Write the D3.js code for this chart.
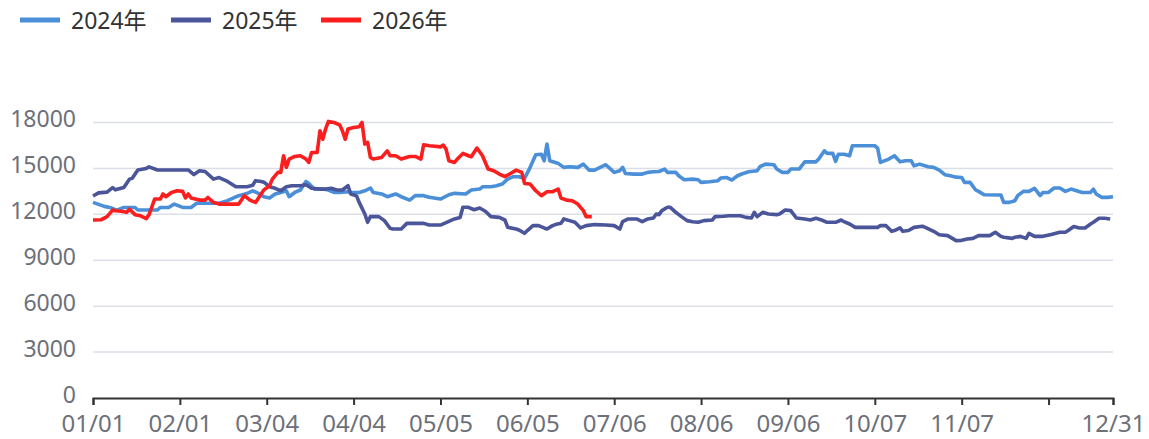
<!DOCTYPE html>
<html><head><meta charset="utf-8">
<script src="https://cdn.jsdelivr.net/npm/d3@7"></script>
<style>body{margin:0;background:#fff}svg{display:block}text{font-family:"Noto Sans","Noto Sans CJK SC",sans-serif}</style>
</head><body><svg id="c" width="1149" height="439"></svg>
<script>
const seriesNames = ["2024年", "2025年", "2026年"];
const seriesColors = ["#4a8fd8", "#4b5599", "#fa1e1e"];
const tickDays = [0, 31, 62, 93, 124, 155, 186, 217, 248, 279, 310, 341, 364];
const tickLabels = ["01/01", "02/01", "03/04", "04/04", "05/05", "06/05", "07/06", "08/06", "09/06", "10/07", "11/07", "", "12/31"];
const yTicks = [0, 3000, 6000, 9000, 12000, 15000, 18000];

// [day index from 01/01, value]
const data2024 = [[0,12780],[4,12520],[6,12450],[8,12300],[9,12300],[11,12450],[13,12450],[15,12450],[16,12280],[21,12280],[23,12280],[24,12450],[27,12450],[29,12670],[32,12450],[35,12450],[37,12720],[45,12720],[48,12890],[52,13220],[55,13370],[57,13540],[59,13370],[61,13150],[63,13070],[65,13330],[67,13430],[69,13540],[70,13150],[72,13430],[74,13590],[76,14150],[77,14020],[79,13650],[82,13650],[84,13590],[86,13430],[88,13430],[91,13480],[92,13430],[95,13430],[97,13540],[99,13720],[100,13430],[103,13330],[105,13150],[108,13330],[110,13150],[113,12930],[115,13220],[118,13220],[120,13110],[124,13000],[127,13280],[129,13370],[133,13330],[135,13590],[138,13650],[139,13800],[142,13800],[144,13870],[146,13980],[148,14300],[150,14460],[152,14460],[154,14350],[156,15070],[158,15890],[160,15930],[161,15500],[162,16590],[163,15500],[165,15390],[166,15330],[168,15070],[170,15110],[173,15070],[175,15280],[177,14890],[179,14890],[183,15240],[186,14740],[188,14850],[189,15070],[190,14670],[193,14630],[196,14630],[198,14740],[200,14780],[202,14800],[204,14960],[205,14740],[208,14740],[209,14520],[211,14260],[214,14300],[216,14260],[217,14090],[220,14130],[223,14200],[224,14370],[226,14410],[228,14240],[230,14520],[232,14670],[234,14780],[237,14850],[238,15110],[240,15280],[243,15240],[244,14960],[246,14740],[248,14740],[249,14960],[252,14960],[254,15430],[258,15430],[259,15610],[261,16150],[262,15980],[264,15980],[265,15460],[266,15930],[268,15930],[270,15830],[271,16480],[279,16480],[280,16330],[281,15390],[284,15610],[286,15830],[288,15430],[290,15500],[292,15500],[293,15170],[295,15280],[298,15110],[300,15070],[302,14890],[304,14590],[306,14520],[308,14430],[310,14410],[311,14090],[313,14090],[315,13590],[316,13500],[318,13280],[324,13260],[325,12780],[327,12780],[329,12890],[330,13220],[332,13500],[334,13500],[336,13700],[338,13220],[339,13430],[341,13430],[343,13720],[345,13720],[347,13500],[349,13650],[351,13540],[353,13430],[356,13430],[357,13650],[358,13330],[360,13110],[362,13110],[364,13150]];
const data2025 = [[0,13200],[2,13400],[5,13450],[7,13750],[8,13600],[10,13700],[11,13750],[13,14300],[14,14350],[16,14900],[19,15000],[20,15100],[23,14900],[34,14900],[36,14600],[38,14850],[40,14800],[43,14300],[45,14400],[48,14150],[51,13800],[55,13800],[57,13900],[58,14200],[60,14150],[61,14100],[63,13800],[65,13700],[67,13540],[69,13800],[71,13870],[74,13870],[76,13930],[78,13700],[81,13650],[83,13650],[85,13700],[87,13590],[89,13590],[91,13870],[92,13330],[94,13220],[95,12780],[97,12020],[98,11480],[99,11850],[102,11850],[104,11590],[106,11090],[107,11040],[110,11040],[112,11410],[115,11410],[118,11410],[120,11300],[124,11300],[127,11540],[129,11700],[131,11800],[132,12460],[134,12460],[136,12300],[138,12410],[140,12200],[142,11850],[145,11800],[147,11630],[148,11150],[151,11040],[152,10980],[154,10760],[155,10940],[157,11260],[159,11260],[161,11110],[162,11040],[164,11260],[165,11330],[167,11410],[168,11700],[170,11590],[172,11480],[174,11110],[176,11260],[179,11330],[183,11300],[186,11260],[188,11040],[189,11520],[191,11700],[194,11700],[196,11520],[198,11700],[200,11760],[201,12020],[202,11980],[203,12240],[205,12460],[206,12460],[208,12130],[210,11850],[212,11590],[214,11520],[216,11480],[218,11590],[221,11630],[222,11850],[225,11870],[227,11910],[231,11910],[233,11800],[235,11760],[236,12130],[237,11850],[239,12130],[241,12020],[244,11980],[245,12020],[247,12280],[249,12240],[251,11760],[254,11700],[256,11630],[258,11740],[260,11630],[262,11480],[265,11480],[267,11630],[268,11520],[270,11370],[272,11150],[280,11150],[281,11260],[283,11260],[285,10890],[286,10940],[288,11110],[289,10890],[291,10940],[293,11150],[296,11220],[297,11150],[300,10890],[302,10670],[305,10610],[308,10280],[310,10300],[312,10390],[314,10430],[316,10610],[318,10610],[320,10610],[322,10830],[324,10560],[325,10500],[328,10430],[329,10500],[331,10560],[333,10430],[334,10760],[336,10560],[339,10560],[342,10690],[345,10830],[347,10830],[348,10940],[350,11200],[352,11110],[354,11110],[356,11370],[357,11480],[359,11740],[361,11740],[363,11700]];
const data2026 = [[0,11630],[3,11650],[5,11850],[7,12280],[8,12230],[10,12200],[12,12130],[13,12330],[15,11980],[17,11900],[19,11720],[20,11980],[22,13000],[24,13000],[25,13330],[26,13150],[28,13430],[30,13540],[32,13500],[33,13070],[34,13330],[35,13070],[38,12930],[40,12930],[41,13100],[43,12780],[45,12670],[52,12670],[54,13220],[56,12930],[58,12780],[60,13330],[61,13600],[63,13870],[64,14300],[66,14740],[67,14740],[68,15830],[69,15070],[70,15610],[72,15780],[74,15830],[76,15610],[77,15390],[78,16040],[80,16040],[81,17460],[82,16910],[83,17570],[84,18070],[86,18000],[88,17850],[89,17460],[90,16910],[91,17570],[93,17670],[95,17720],[96,18000],[97,16590],[98,16700],[99,15720],[100,15610],[103,15720],[105,16150],[106,15830],[108,15830],[110,15610],[113,15780],[115,15780],[117,15610],[118,16540],[120,16480],[122,16450],[124,16410],[125,16520],[126,16260],[127,15500],[129,15390],[130,15610],[132,15980],[134,15830],[135,15760],[137,16330],[139,15830],[141,14960],[143,14850],[145,14630],[147,14460],[149,14670],[151,14890],[153,14740],[154,14020],[156,13980],[158,13540],[160,13220],[162,13480],[164,13480],[166,13650],[167,13070],[169,12930],[171,12890],[173,12670],[175,12240],[176,11850],[178,11850]];

const allSeries = [data2024, data2025, data2026];

const svg = d3.select("#c");
const x = d3.scaleLinear().domain([0, 364]).range([93, 1113]);
const y = d3.scaleLinear().domain([0, 18000]).range([398, 122.5]);

// grid
svg.append("g").selectAll("line").data(yTicks.filter(d => d > 0)).join("line")
  .attr("x1", x(0)).attr("x2", x(364)).attr("y1", d => y(d)).attr("y2", d => y(d))
  .attr("stroke", "#dcdfe8").attr("stroke-width", 1.5);

// y labels
svg.append("g").selectAll("text").data(yTicks).join("text")
  .attr("x", 76).attr("y", d => y(d) + 4.5).attr("text-anchor", "end")
  .attr("fill", "#6e7079").attr("font-size", 23).text(d => d);

// x axis
const xAxis = d3.axisBottom(x).tickValues(tickDays).tickSize(7).tickFormat((d, i) => tickLabels[i]);
const gx = svg.append("g").attr("transform", `translate(0,${y(0)})`).call(xAxis);
gx.select(".domain").attr("stroke", "#333").attr("stroke-width", 2);
gx.selectAll(".tick line").attr("stroke", "#333").attr("stroke-width", 2);
gx.selectAll(".tick text").attr("fill", "#6e7079").attr("font-size", 24).attr("y", 34).attr("dy", 0)
  .attr("font-family", '"Noto Sans","Noto Sans CJK SC",sans-serif');

// lines
const line = d3.line().x(d => x(d[0])).y(d => y(d[1]));
allSeries.forEach((s, i) => {
  svg.append("path").datum(s).attr("d", line).attr("fill", "none")
    .attr("stroke", seriesColors[i]).attr("stroke-width", 3.6).attr("stroke-linejoin", "round");
});

// legend
const legendX = [20, 171, 321];
seriesNames.forEach((n, i) => {
  const g = svg.append("g").attr("transform", `translate(${legendX[i]},20)`);
  g.append("line").attr("x1", 0).attr("x2", 40).attr("y1", 0).attr("y2", 0)
    .attr("stroke", seriesColors[i]).attr("stroke-width", 5);
  g.append("text").attr("x", 51).attr("y", 8.5).attr("font-size", 23)
    .attr("fill", "#333").text(n);
});
</script></body></html>
